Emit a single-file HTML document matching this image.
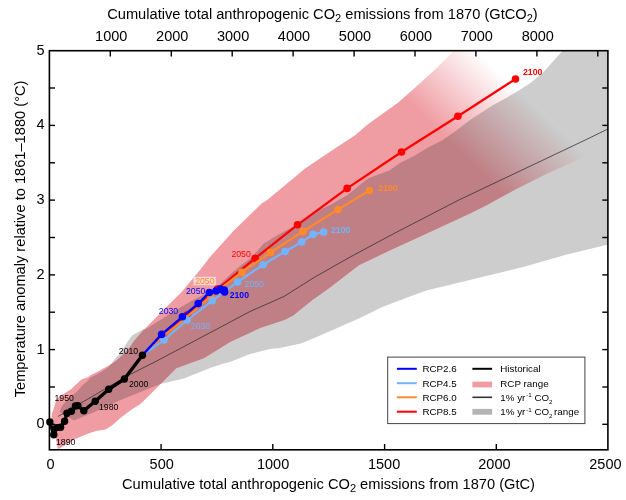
<!DOCTYPE html><html><head><meta charset="utf-8"><style>html,body{margin:0;padding:0;background:#fff;width:626px;height:500px;overflow:hidden}svg{display:block;filter:blur(0.3px)}</style></head><body><svg width="626" height="500" viewBox="0 0 626 500" font-family="'Liberation Sans', Arial, Helvetica, sans-serif">
<defs>
<clipPath id="plot"><rect x="49.4" y="50.7" width="558.5" height="399.1"/></clipPath>
<clipPath id="pclip"><polygon points="55.8,437.7 52.0,428.0 51.4,420.0 51.8,414.0 53.2,410.0 54.8,405.2 56.4,399.6 62.0,394.8 70.8,389.5 74.4,386.0 81.6,379.6 88.0,377.2 90.0,375.5 98.0,371.4 106.0,367.0 112.4,363.5 116.4,360.5 122.0,355.4 125.0,352.4 130.0,347.0 134.4,340.4 143.6,329.9 163.4,310.1 181.4,292.2 200.0,270.0 210.0,257.0 233.2,231.2 261.6,203.6 267.2,200.0 300.0,172.8 305.2,168.6 333.3,149.4 355.1,135.3 367.6,124.5 398.3,102.5 415.6,87.2 436.7,68.0 452.0,52.7 470.0,36.0 640.0,36.0 640.0,140.0 600.0,146.0 591.0,151.5 573.8,161.6 545.0,174.5 516.3,188.9 487.5,204.7 470.0,213.6 430.0,232.0 390.8,250.0 358.8,265.2 330.0,287.6 312.4,300.0 293.2,315.6 284.3,320.0 260.0,328.0 230.0,342.0 204.3,358.1 176.2,368.3 160.9,383.7 150.7,393.9 140.4,404.1 130.2,410.5 120.0,418.2 112.0,425.5 105.5,429.5 95.9,431.1 86.3,434.3 75.2,439.1 67.2,443.9 58.0,449.3"/></clipPath>
<linearGradient id="fade" gradientUnits="userSpaceOnUse" x1="429.8" y1="122.6" x2="489.1" y2="61.8"><stop offset="0" stop-color="#fff" stop-opacity="1"/><stop offset="1" stop-color="#fff" stop-opacity="0"/></linearGradient>
<mask id="fm" maskUnits="userSpaceOnUse" x="0" y="0" width="626" height="500"><rect x="0" y="0" width="626" height="500" fill="url(#fade)"/></mask>
</defs>
<rect width="626" height="500" fill="#fff"/>
<g clip-path="url(#plot)">
<polygon points="59.6,411.6 62.4,405.2 70.4,396.4 76.0,392.4 83.2,384.4 87.2,381.2 90.0,378.0 98.0,373.8 106.0,369.0 109.0,366.5 112.4,362.2 116.4,357.0 120.4,353.0 124.4,346.6 128.4,340.4 132.0,335.6 142.8,329.6 146.0,329.0 176.0,310.0 194.0,299.4 208.3,292.2 219.1,285.0 233.0,272.0 242.0,264.4 249.2,259.4 256.0,252.5 263.4,243.8 279.6,234.0 299.4,223.2 315.5,211.5 330.0,205.0 348.0,194.7 367.8,178.6 389.4,170.5 400.0,163.0 414.0,156.0 428.0,147.6 442.0,140.6 456.0,130.8 470.0,120.0 492.4,105.4 514.7,93.1 530.4,83.0 543.8,71.8 561.7,51.7 570.0,42.0 640.0,0.0 640.0,230.0 608.0,244.5 565.0,255.0 525.0,266.5 480.0,277.5 426.5,290.4 410.0,296.4 382.8,306.8 360.0,318.0 335.0,329.0 316.0,337.2 301.6,343.2 280.0,348.0 270.0,349.0 250.0,354.0 230.0,362.0 221.9,364.0 209.5,368.3 183.9,378.6 160.9,383.7 120.0,400.3 100.0,409.5 86.0,415.6 74.0,420.4 59.6,411.8" fill="#cdcdcd"/>
<g mask="url(#fm)">
<polygon points="55.8,437.7 52.0,428.0 51.4,420.0 51.8,414.0 53.2,410.0 54.8,405.2 56.4,399.6 62.0,394.8 70.8,389.5 74.4,386.0 81.6,379.6 88.0,377.2 90.0,375.5 98.0,371.4 106.0,367.0 112.4,363.5 116.4,360.5 122.0,355.4 125.0,352.4 130.0,347.0 134.4,340.4 143.6,329.9 163.4,310.1 181.4,292.2 200.0,270.0 210.0,257.0 233.2,231.2 261.6,203.6 267.2,200.0 300.0,172.8 305.2,168.6 333.3,149.4 355.1,135.3 367.6,124.5 398.3,102.5 415.6,87.2 436.7,68.0 452.0,52.7 470.0,36.0 640.0,36.0 640.0,140.0 600.0,146.0 591.0,151.5 573.8,161.6 545.0,174.5 516.3,188.9 487.5,204.7 470.0,213.6 430.0,232.0 390.8,250.0 358.8,265.2 330.0,287.6 312.4,300.0 293.2,315.6 284.3,320.0 260.0,328.0 230.0,342.0 204.3,358.1 176.2,368.3 160.9,383.7 150.7,393.9 140.4,404.1 130.2,410.5 120.0,418.2 112.0,425.5 105.5,429.5 95.9,431.1 86.3,434.3 75.2,439.1 67.2,443.9 58.0,449.3" fill="#ef9ca2"/>
<polygon points="59.6,411.6 62.4,405.2 70.4,396.4 76.0,392.4 83.2,384.4 87.2,381.2 90.0,378.0 98.0,373.8 106.0,369.0 109.0,366.5 112.4,362.2 116.4,357.0 120.4,353.0 124.4,346.6 128.4,340.4 132.0,335.6 142.8,329.6 146.0,329.0 176.0,310.0 194.0,299.4 208.3,292.2 219.1,285.0 233.0,272.0 242.0,264.4 249.2,259.4 256.0,252.5 263.4,243.8 279.6,234.0 299.4,223.2 315.5,211.5 330.0,205.0 348.0,194.7 367.8,178.6 389.4,170.5 400.0,163.0 414.0,156.0 428.0,147.6 442.0,140.6 456.0,130.8 470.0,120.0 492.4,105.4 514.7,93.1 530.4,83.0 543.8,71.8 561.7,51.7 570.0,42.0 640.0,0.0 640.0,230.0 608.0,244.5 565.0,255.0 525.0,266.5 480.0,277.5 426.5,290.4 410.0,296.4 382.8,306.8 360.0,318.0 335.0,329.0 316.0,337.2 301.6,343.2 280.0,348.0 270.0,349.0 250.0,354.0 230.0,362.0 221.9,364.0 209.5,368.3 183.9,378.6 160.9,383.7 120.0,400.3 100.0,409.5 86.0,415.6 74.0,420.4 59.6,411.8" fill="#bf7f84" clip-path="url(#pclip)"/>
</g>
<polyline points="58.2,416.4 128.0,375.5 155.0,361.9 250.0,311.5 284.3,296.3 313.9,277.6 350.0,257.1 390.0,235.6 458.8,200.0 585.3,140.0 607.5,129.2" fill="none" stroke="#333" stroke-width="0.8"/>
</g>
<polyline points="142.4,355.2 163.0,337.0 187.0,315.0 217.5,289.0 255.1,258.3 297.5,224.8 347.1,188.4 401.5,152.0 457.9,116.2 515.5,79.0" fill="none" stroke="#ff0000" stroke-width="2.2" stroke-linejoin="round"/><circle cx="163.0" cy="337.0" r="3.8" fill="#ff0000"/><circle cx="187.0" cy="315.0" r="3.8" fill="#ff0000"/><circle cx="217.5" cy="289.0" r="3.8" fill="#ff0000"/><circle cx="255.1" cy="258.3" r="3.8" fill="#ff0000"/><circle cx="297.5" cy="224.8" r="3.8" fill="#ff0000"/><circle cx="347.1" cy="188.4" r="3.8" fill="#ff0000"/><circle cx="401.5" cy="152.0" r="3.8" fill="#ff0000"/><circle cx="457.9" cy="116.2" r="3.8" fill="#ff0000"/><circle cx="515.5" cy="79.0" r="3.8" fill="#ff0000"/>
<polyline points="142.4,355.2 162.0,337.5 185.0,318.5 211.0,296.0 242.0,272.2 270.4,252.5 303.0,231.4 337.8,209.6 369.5,190.5" fill="none" stroke="#ff8a2a" stroke-width="2.2" stroke-linejoin="round"/><circle cx="162.0" cy="337.5" r="3.8" fill="#ff8a2a"/><circle cx="185.0" cy="318.5" r="3.8" fill="#ff8a2a"/><circle cx="211.0" cy="296.0" r="3.8" fill="#ff8a2a"/><circle cx="242.0" cy="272.2" r="3.8" fill="#ff8a2a"/><circle cx="270.4" cy="252.5" r="3.8" fill="#ff8a2a"/><circle cx="303.0" cy="231.4" r="3.8" fill="#ff8a2a"/><circle cx="337.8" cy="209.6" r="3.8" fill="#ff8a2a"/><circle cx="369.5" cy="190.5" r="3.8" fill="#ff8a2a"/>
<polyline points="142.4,355.2 164.0,340.0 187.2,320.0 212.2,300.8 237.6,281.9 263.1,264.8 285.0,251.6 301.7,242.0 313.1,234.4 323.7,232.0" fill="none" stroke="#73b4ff" stroke-width="2.2" stroke-linejoin="round"/><circle cx="164.0" cy="340.0" r="3.8" fill="#73b4ff"/><circle cx="187.2" cy="320.0" r="3.8" fill="#73b4ff"/><circle cx="212.2" cy="300.8" r="3.8" fill="#73b4ff"/><circle cx="237.6" cy="281.9" r="3.8" fill="#73b4ff"/><circle cx="263.1" cy="264.8" r="3.8" fill="#73b4ff"/><circle cx="285.0" cy="251.6" r="3.8" fill="#73b4ff"/><circle cx="301.7" cy="242.0" r="3.8" fill="#73b4ff"/><circle cx="313.1" cy="234.4" r="3.8" fill="#73b4ff"/><circle cx="323.7" cy="232.0" r="3.8" fill="#73b4ff"/>
<polyline points="142.4,355.2 161.6,334.4 182.4,316.8 198.2,303.6 209.3,292.5 216.0,291.0 220.3,289.1 224.2,290.1 224.6,292.0" fill="none" stroke="#0000ff" stroke-width="2.4" stroke-linejoin="round"/><circle cx="161.6" cy="334.4" r="3.8" fill="#0000ff"/><circle cx="182.4" cy="316.8" r="3.8" fill="#0000ff"/><circle cx="198.2" cy="303.6" r="3.8" fill="#0000ff"/><circle cx="209.3" cy="292.5" r="3.8" fill="#0000ff"/><circle cx="216.0" cy="291.0" r="3.8" fill="#0000ff"/><circle cx="220.3" cy="289.1" r="3.8" fill="#0000ff"/><circle cx="224.2" cy="290.1" r="3.8" fill="#0000ff"/><circle cx="224.6" cy="292.0" r="3.8" fill="#0000ff"/>
<polyline points="49.8,422.0 53.8,434.8 56.6,427.6 60.6,427.2 64.6,421.2 67.0,413.2 71.4,411.2 75.4,406.0 77.8,405.6 83.8,410.8 95.2,401.2 108.7,389.2 124.4,379.0 142.4,355.2" fill="none" stroke="#000" stroke-width="3.4" stroke-linejoin="round"/>
<circle cx="49.8" cy="422" r="3.7" fill="#000"/><circle cx="53.8" cy="434.8" r="3.7" fill="#000"/><circle cx="56.6" cy="427.6" r="3.7" fill="#000"/><circle cx="60.6" cy="427.2" r="3.7" fill="#000"/><circle cx="64.6" cy="421.2" r="3.7" fill="#000"/><circle cx="67" cy="413.2" r="3.7" fill="#000"/><circle cx="71.4" cy="411.2" r="3.7" fill="#000"/><circle cx="75.4" cy="406" r="3.7" fill="#000"/><circle cx="77.8" cy="405.6" r="3.7" fill="#000"/><circle cx="83.8" cy="410.8" r="3.7" fill="#000"/><circle cx="95.2" cy="401.2" r="3.7" fill="#000"/><circle cx="108.7" cy="389.2" r="3.7" fill="#000"/><circle cx="124.4" cy="379.0" r="3.7" fill="#000"/><circle cx="142.4" cy="355.2" r="3.7" fill="#000"/>
<rect x="49.4" y="50.7" width="558.5" height="399.1" fill="none" stroke="#000" stroke-width="1.6"/>
<line x1="49.4" y1="424.3" x2="55" y2="424.3" stroke="#000" stroke-width="1.4"/>
<line x1="602.3" y1="424.3" x2="607.9" y2="424.3" stroke="#000" stroke-width="1.4"/>
<line x1="49.4" y1="387.0" x2="55" y2="387.0" stroke="#000" stroke-width="1.4"/>
<line x1="602.3" y1="387.0" x2="607.9" y2="387.0" stroke="#000" stroke-width="1.4"/>
<line x1="49.4" y1="349.6" x2="55" y2="349.6" stroke="#000" stroke-width="1.4"/>
<line x1="602.3" y1="349.6" x2="607.9" y2="349.6" stroke="#000" stroke-width="1.4"/>
<line x1="49.4" y1="312.2" x2="55" y2="312.2" stroke="#000" stroke-width="1.4"/>
<line x1="602.3" y1="312.2" x2="607.9" y2="312.2" stroke="#000" stroke-width="1.4"/>
<line x1="49.4" y1="274.9" x2="55" y2="274.9" stroke="#000" stroke-width="1.4"/>
<line x1="602.3" y1="274.9" x2="607.9" y2="274.9" stroke="#000" stroke-width="1.4"/>
<line x1="49.4" y1="237.5" x2="55" y2="237.5" stroke="#000" stroke-width="1.4"/>
<line x1="602.3" y1="237.5" x2="607.9" y2="237.5" stroke="#000" stroke-width="1.4"/>
<line x1="49.4" y1="200.1" x2="55" y2="200.1" stroke="#000" stroke-width="1.4"/>
<line x1="602.3" y1="200.1" x2="607.9" y2="200.1" stroke="#000" stroke-width="1.4"/>
<line x1="49.4" y1="162.8" x2="55" y2="162.8" stroke="#000" stroke-width="1.4"/>
<line x1="602.3" y1="162.8" x2="607.9" y2="162.8" stroke="#000" stroke-width="1.4"/>
<line x1="49.4" y1="125.4" x2="55" y2="125.4" stroke="#000" stroke-width="1.4"/>
<line x1="602.3" y1="125.4" x2="607.9" y2="125.4" stroke="#000" stroke-width="1.4"/>
<line x1="49.4" y1="88.0" x2="55" y2="88.0" stroke="#000" stroke-width="1.4"/>
<line x1="602.3" y1="88.0" x2="607.9" y2="88.0" stroke="#000" stroke-width="1.4"/>
<line x1="161.1" y1="449.8" x2="161.1" y2="444" stroke="#000" stroke-width="1.4"/>
<line x1="272.8" y1="449.8" x2="272.8" y2="444" stroke="#000" stroke-width="1.4"/>
<line x1="384.6" y1="449.8" x2="384.6" y2="444" stroke="#000" stroke-width="1.4"/>
<line x1="496.3" y1="449.8" x2="496.3" y2="444" stroke="#000" stroke-width="1.4"/>
<line x1="110.3" y1="50.7" x2="110.3" y2="56.5" stroke="#000" stroke-width="1.4"/>
<line x1="171.3" y1="50.7" x2="171.3" y2="56.5" stroke="#000" stroke-width="1.4"/>
<line x1="232.2" y1="50.7" x2="232.2" y2="56.5" stroke="#000" stroke-width="1.4"/>
<line x1="293.1" y1="50.7" x2="293.1" y2="56.5" stroke="#000" stroke-width="1.4"/>
<line x1="354.1" y1="50.7" x2="354.1" y2="56.5" stroke="#000" stroke-width="1.4"/>
<line x1="415.0" y1="50.7" x2="415.0" y2="56.5" stroke="#000" stroke-width="1.4"/>
<line x1="475.9" y1="50.7" x2="475.9" y2="56.5" stroke="#000" stroke-width="1.4"/>
<line x1="536.9" y1="50.7" x2="536.9" y2="56.5" stroke="#000" stroke-width="1.4"/>
<line x1="597.8" y1="50.7" x2="597.8" y2="56.5" stroke="#000" stroke-width="1.4"/>
<text x="44.6" y="428.3" font-size="14.5" text-anchor="end">0</text>
<text x="44.6" y="353.6" font-size="14.5" text-anchor="end">1</text>
<text x="44.6" y="278.9" font-size="14.5" text-anchor="end">2</text>
<text x="44.6" y="204.1" font-size="14.5" text-anchor="end">3</text>
<text x="44.6" y="129.4" font-size="14.5" text-anchor="end">4</text>
<text x="44.6" y="54.7" font-size="14.5" text-anchor="end">5</text>
<text x="50.5" y="469" font-size="14.5" text-anchor="middle">0</text>
<text x="161.7" y="469" font-size="14.5" text-anchor="middle">500</text>
<text x="273.1" y="469" font-size="14.5" text-anchor="middle">1000</text>
<text x="384.1" y="469" font-size="14.5" text-anchor="middle">1500</text>
<text x="494.4" y="469" font-size="14.5" text-anchor="middle">2000</text>
<text x="605.4" y="469" font-size="14.5" text-anchor="middle">2500</text>
<text x="111.2" y="41" font-size="14.5" text-anchor="middle">1000</text>
<text x="172.2" y="41" font-size="14.5" text-anchor="middle">2000</text>
<text x="233.1" y="41" font-size="14.5" text-anchor="middle">3000</text>
<text x="294.0" y="41" font-size="14.5" text-anchor="middle">4000</text>
<text x="355.0" y="41" font-size="14.5" text-anchor="middle">5000</text>
<text x="415.9" y="41" font-size="14.5" text-anchor="middle">6000</text>
<text x="476.8" y="41" font-size="14.5" text-anchor="middle">7000</text>
<text x="537.8" y="41" font-size="14.5" text-anchor="middle">8000</text>
<text x="107.2" y="19.2" font-size="14.65">Cumulative total anthropogenic CO<tspan font-size="11" dy="3">2</tspan><tspan dy="-3"> emissions from 1870 (GtCO</tspan><tspan font-size="11" dy="3">2</tspan><tspan dy="-3">)</tspan></text>
<text x="122" y="488.6" font-size="14.65">Cumulative total anthropogenic CO<tspan font-size="11" dy="3">2</tspan><tspan dy="-3"> emissions from 1870 (GtC)</tspan></text>
<text transform="translate(24.7,397.3) rotate(-90)" font-size="14.65">Temperature anomaly relative to 1861–1880 (°C)</text>
<text x="56" y="445" font-size="8.7" fill="#000">1890</text>
<text x="54.5" y="401" font-size="8.7" fill="#000">1950</text>
<text x="99" y="410" font-size="8.7" fill="#000">1980</text>
<text x="129" y="386.5" font-size="8.7" fill="#000">2000</text>
<text x="118.8" y="354.2" font-size="8.7" fill="#000">2010</text>
<text x="158.8" y="314.4" font-size="8.7" fill="#0000ff">2030</text>
<text x="186" y="294" font-size="8.7" fill="#0000ff">2050</text>
<text x="229.7" y="298.2" font-size="8.7" fill="#0000ff" font-weight="bold">2100</text>
<text x="190.8" y="328.6" font-size="8.7" fill="#73b4ff">2030</text>
<text x="244.6" y="286.8" font-size="8.7" fill="#73b4ff">2050</text>
<text x="331" y="233.2" font-size="8.7" fill="#73b4ff" font-weight="bold">2100</text>
<rect x="193.4" y="276.8" width="22.4" height="8.4" fill="#fff" fill-opacity="0.6"/>
<text x="195.2" y="284.4" font-size="8.7" fill="#ff8a2a">2050</text>
<text x="378.3" y="190.9" font-size="8.7" fill="#ff8a2a" font-weight="bold">2100</text>
<text x="231.4" y="257.2" font-size="8.7" fill="#ff0000">2050</text>
<text x="523" y="75.1" font-size="8.7" fill="#ff0000" font-weight="bold">2100</text>
<rect x="387.7" y="357.1" width="197.2" height="66.5" fill="#fff" stroke="#444" stroke-width="1"/>
<line x1="396.9" y1="368.8" x2="416.8" y2="368.8" stroke="#0000ff" stroke-width="2"/>
<text x="422.4" y="372.40000000000003" font-size="9.8">RCP2.6</text>
<line x1="396.9" y1="383.2" x2="416.8" y2="383.2" stroke="#73b4ff" stroke-width="2"/>
<text x="422.4" y="386.8" font-size="9.8">RCP4.5</text>
<line x1="396.9" y1="397.3" x2="416.8" y2="397.3" stroke="#ff8a2a" stroke-width="2"/>
<text x="422.4" y="400.90000000000003" font-size="9.8">RCP6.0</text>
<line x1="396.9" y1="411.7" x2="416.8" y2="411.7" stroke="#ff0000" stroke-width="2"/>
<text x="422.4" y="415.3" font-size="9.8">RCP8.5</text>
<line x1="472.4" y1="368.8" x2="492.1" y2="368.8" stroke="#000" stroke-width="2"/>
<rect x="472.4" y="381.6" width="19.7" height="5.8" fill="#ef9ca2"/>
<line x1="472.4" y1="397.3" x2="492.1" y2="397.3" stroke="#333" stroke-width="1.6"/>
<rect x="472.4" y="408.9" width="19.7" height="5.8" fill="#b4b4b4"/>
<text x="500.3" y="372.40000000000003" font-size="9.8">Historical</text>
<text x="500.3" y="386.8" font-size="9.8">RCP range</text>
<text x="500.3" y="400.90000000000003" font-size="9.8">1% yr<tspan font-size="6.2" dy="-3.6" dx="0.8">-1</tspan><tspan dy="3.6"> CO</tspan><tspan font-size="6.2" dy="2.6">2</tspan></text>
<text x="500.3" y="415.3" font-size="9.8">1% yr<tspan font-size="6.2" dy="-3.6" dx="0.8">-1</tspan><tspan dy="3.6"> CO</tspan><tspan font-size="6.2" dy="2.6">2</tspan><tspan dy="-2.6" dx="-1.2"> range</tspan></text>
</svg></body></html>
